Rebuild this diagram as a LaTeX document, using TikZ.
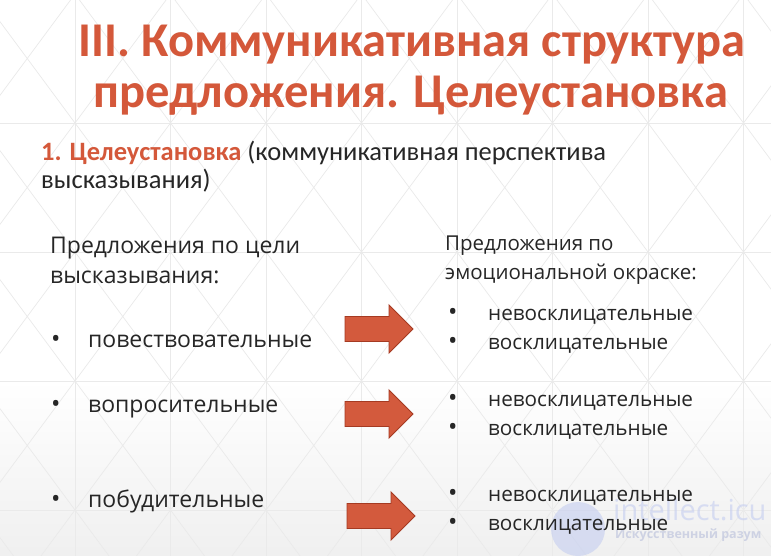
\documentclass[tikz,border=0pt]{standalone}
\usepackage{fontspec}
\setmainfont{Open Sans}
\newfontfamily\titlefont{Carlito}
\definecolor{accent}{RGB}{212,88,58}
\definecolor{arrowfill}{RGB}{211,90,61}
\definecolor{arrowline}{RGB}{165,58,34}
\definecolor{txt}{RGB}{38,38,38}
\definecolor{gridc}{RGB}{234,234,234}
\definecolor{wmark}{RGB}{196,205,240}
\tikzset{
  gridline/.style={draw=gridc, line width=0.7pt},
  ttl/.style={inner sep=0pt, anchor=base, text=accent, font=\titlefont\bfseries\fontsize{48.5}{51}\selectfont},
  sub/.style={inner sep=0pt, anchor=base west, text=txt, font=\titlefont\fontsize{26.5}{30}\selectfont},
  lbody/.style={inner sep=0pt, anchor=base west, text=txt, font=\fontsize{23}{28}\selectfont},
  rhead/.style={inner sep=0pt, anchor=base west, text=txt, font=\fontsize{20.5}{26}\selectfont},
  rbody/.style={inner sep=0pt, anchor=base west, text=txt, font=\fontsize{20.7}{26}\selectfont},
  dot/.style={inner sep=0pt, anchor=base west, text=txt, font=\fontsize{25}{28}\selectfont},
  blockarrow/.style={fill=arrowfill, draw=arrowline, line width=0.9pt, line join=miter},
}
\newcommand{\blockarr}[2]{%
  \draw[blockarrow] (#1,#2) ++(0,-12.5) -- ++(44,0) -- ++(0,-11.5) -- ++(24,24) -- ++(-24,24) -- ++(0,-11.5) -- ++(-44,0) -- cycle;}
\begin{document}
\begin{tikzpicture}[x=1pt,y=-1pt]
\useasboundingbox (0,0) rectangle (771,556);
% background
\fill[white] (0,0) rectangle (771,381);
\shade[top color=white, bottom color=black!6] (0,380) rectangle (771,556);
\begin{scope}
\clip (0,0) rectangle (771,556);
\foreach \i in {0,...,8} {
  \draw[gridline] ({-20.5+95.5*\i},0) -- ({-20.5+95.5*\i},556);
}
\foreach \j in {0,...,4} {
  \draw[gridline] (0,{-6+129*\j}) -- (771,{-6+129*\j});
}
\foreach \i in {0,...,8} {
  \foreach \j in {0,...,4} {
    \draw[gridline] ({-20.5+95.5*\i},{-6+129*\j}) -- ++(95.5,129);
    \draw[gridline] ({75+95.5*\i},{-6+129*\j}) -- ++(-95.5,129);
  }
}
\end{scope}
% watermark
\begin{scope}[opacity=0.6]
\fill[wmark] (578,529) circle (27);
\node[inner sep=0pt, anchor=base west, text=wmark, font=\fontsize{29}{30}\selectfont] (wm1) at (613,520) {intellect.icu};
\node[inner sep=0pt, anchor=base west, text=wmark!80!gray, font=\bfseries\fontsize{12.5}{13}\selectfont] (wm2) at (615,538) {Искусственный разум};
\end{scope}
% title
\node[ttl] (t1) at (412,57) {III. Коммуникативная структура};
\node[ttl] (t2) at (411,108) {предложения. Целеустановка};
% subtitle
\node[sub] (s1) at (41,161) {\textcolor{accent}{\bfseries 1. Целеустановка} (коммуникативная перспектива};
\node[sub] (s2) at (41,189) {высказывания)};
% left header
\node[lbody] (lh1) at (50,253) {Предложения по цели};
\node[lbody] (lh2) at (50,283) {высказывания:};
% left bullets
\node[dot] (lb1d) at (51,347) {•};
\node[lbody] (lb1) at (88,347) {повествовательные};
\node[dot] (lb2d) at (51,412) {•};
\node[lbody] (lb2) at (88,412) {вопросительные};
\node[dot] (lb3d) at (51,507) {•};
\node[lbody] (lb3) at (88,507) {побудительные};
% right header
\node[rhead] (rh1) at (445,251) {Предложения по};
\node[rhead] (rh2) at (445,279) {эмоциональной окраске:};
% right bullets
\foreach \y/\n in {320/a,406/b,501/c} {
  \node[dot] (r\n1d) at (448,\y) {•};
  \node[rbody] (r\n1) at (488,\y) {невосклицательные};
  \node[dot] (r\n2d) at (448,\y+29) {•};
  \node[rbody] (r\n2) at (488,\y+29) {восклицательные};
}
% arrows
\blockarr{345}{329}
\blockarr{345}{414}
\blockarr{347}{516}
\end{tikzpicture}
\end{document}
